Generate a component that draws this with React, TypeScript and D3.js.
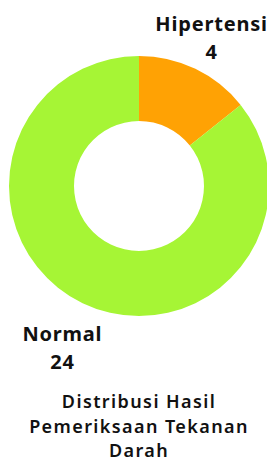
import React, { useEffect, useRef } from 'react';
import * as d3 from 'd3';

const categories = ['Hipertensi', 'Normal'];
const values = [4, 24];
const colors = ['#ffa204', '#a6f535'];
const titleLines = ['Distribusi Hasil', 'Pemeriksaan Tekanan', 'Darah'];

export default function App() {
  const svgRef = useRef<SVGSVGElement>(null);

  useEffect(() => {
    if (!svgRef.current) return;
    const width = 267;
    const height = 463;
    const cx = 139;
    const cy = 186;
    const outer = 130;
    const inner = 65;

    const data = categories.map((c, i) => ({ label: c, value: values[i] }));

    const root = d3.select(svgRef.current);
    root.selectAll('*').remove();
    root.attr('width', width).attr('height', height);

    const g = root.append('g').attr('transform', `translate(${cx},${cy})`);

    const color = d3.scaleOrdinal<string, string>().domain(categories).range(colors);
    const pie = d3.pie<{ label: string; value: number }>().value(d => d.value).sort(null);
    const arc = d3.arc<d3.PieArcDatum<{ label: string; value: number }>>()
      .innerRadius(inner).outerRadius(outer);
    const labelArc = d3.arc<d3.PieArcDatum<{ label: string; value: number }>>()
      .innerRadius(165).outerRadius(165);

    const arcs = pie(data);

    g.selectAll('path')
      .data(arcs)
      .enter()
      .append('path')
      .attr('d', arc)
      .attr('fill', d => color(d.data.label));

    // outside labels: name + value
    const labels = g.selectAll('.lbl')
      .data(arcs)
      .enter()
      .append('text')
      .attr('class', 'lbl')
      .attr('text-anchor', 'middle')
      .attr('transform', d => {
        const [x, y] = labelArc.centroid(d);
        const mid = (d.startAngle + d.endAngle) / 2;
        const bottom = mid > Math.PI / 2 && mid < Math.PI * 1.5;
        return bottom ? `translate(${x - 5},${y + 12})` : `translate(${x + 1},${y})`;
      })
      .style('font-family', '"Noto Sans", sans-serif')
      .style('font-weight', 'bold')
      .style('font-size', '20px')
      .style('letter-spacing', '0.8px')
      .style('fill', '#111');

    labels.append('tspan')
      .attr('x', 0)
      .attr('y', -6)
      .text(d => d.data.label);
    labels.append('tspan')
      .attr('x', 0)
      .attr('y', 22)
      .text(d => d.data.value);

    // title
    root.append('text')
      .attr('text-anchor', 'middle')
      .style('font-family', '"Noto Sans", sans-serif')
      .style('font-weight', 600)
      .style('font-size', '18px')
      .style('letter-spacing', '1.4px')
      .style('fill', '#111')
      .selectAll('tspan')
      .data(titleLines)
      .enter()
      .append('tspan')
      .attr('x', cx)
      .attr('y', (d, i) => 408 + i * 24.5)
      .text(d => d);
  }, []);

  return <svg ref={svgRef} style={{ position: 'absolute', left: 0, top: 0 }}></svg>;
}
